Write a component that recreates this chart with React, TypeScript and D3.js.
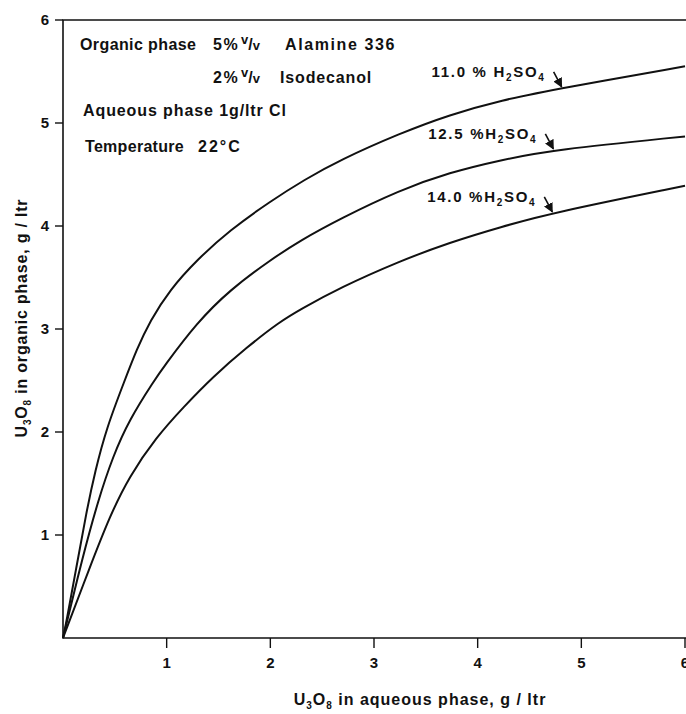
import React from 'react'
import * as d3 from 'd3'

// U3O8 aqueous (g/ltr) vs U3O8 organic (g/ltr)
const acid110 = [
  [0, 0], [0.03, 0.14], [0.13, 0.69], [0.225, 1.22], [0.31, 1.62], [0.42, 2.04],
  [0.595, 2.5], [0.71, 2.8], [0.84, 3.08], [1.03, 3.38], [1.29, 3.67], [1.61, 3.96],
  [2.0, 4.24], [2.33, 4.45], [2.67, 4.64], [3.25, 4.9], [3.73, 5.08], [4.22, 5.22],
  [4.81, 5.34], [6, 5.55],
]
const acid125 = [
  [0, 0], [0.19, 0.79], [0.34, 1.34], [0.48, 1.76], [0.64, 2.12], [0.88, 2.5],
  [0.97, 2.63], [1.29, 3.06], [1.61, 3.38], [2.0, 3.67], [2.29, 3.86], [2.67, 4.07],
  [3.25, 4.35], [3.73, 4.52], [4.22, 4.64], [4.73, 4.74], [6, 4.87],
]
const acid140 = [
  [0, 0], [0.26, 0.69], [0.45, 1.18], [0.64, 1.57], [0.9, 1.95], [1.16, 2.24],
  [1.45, 2.54], [1.77, 2.82], [2.09, 3.07], [2.29, 3.19], [2.67, 3.4], [3.25, 3.66],
  [3.73, 3.84], [4.22, 3.99], [4.73, 4.13], [6, 4.39],
]
const seriesLabels = ['11.0 % ', '12.5 %', '14.0 %']
const arrowAt = [4.81, 4.73, 4.72]
const xTicks = [1, 2, 3, 4, 5, 6]
const yTicks = [1, 2, 3, 4, 5, 6]

const FONT = '"Liberation Sans", Arial, sans-serif'

const interp = (pts, x) => {
  for (let i = 1; i < pts.length; i++) {
    if (x <= pts[i][0]) {
      const [x0, y0] = pts[i - 1]
      const [x1, y1] = pts[i]
      return y0 + ((x - x0) / (x1 - x0)) * (y1 - y0)
    }
  }
  return pts[pts.length - 1][1]
}

const App = () => {
  const svgRef = React.useRef(null)
  const width = 686
  const height = 714

  React.useEffect(() => {
    const svg = d3.select(svgRef.current)
    svg.selectAll('*').remove()

    const x = d3.scaleLinear().domain([0, 6]).range([63, 685])
    const y = d3.scaleLinear().domain([0, 6]).range([638, 20])

    const g = svg.append('g')
      .attr('font-family', FONT)
      .attr('font-weight', 'bold')
      .attr('fill', '#111')

    // frame: top, left, bottom
    g.append('path')
      .attr('d', `M${x(6) + 1},${y(6)} H${x(0)} V${y(0)} H${x(6) + 1}`)
      .attr('fill', 'none')
      .attr('stroke', '#111')
      .attr('stroke-width', 1.6)

    // y ticks
    yTicks.forEach((t) => {
      g.append('line')
        .attr('x1', x(0) - 8).attr('x2', x(0))
        .attr('y1', y(t)).attr('y2', y(t))
        .attr('stroke', '#111').attr('stroke-width', 1.4)
      g.append('text')
        .attr('x', x(0) - 14).attr('y', y(t))
        .attr('dy', '0.36em')
        .attr('text-anchor', 'end')
        .attr('font-size', 15)
        .text(t)
    })

    // x ticks
    xTicks.forEach((t) => {
      g.append('line')
        .attr('x1', x(t)).attr('x2', x(t))
        .attr('y1', y(0)).attr('y2', y(0) + 10)
        .attr('stroke', '#111').attr('stroke-width', 1.4)
      g.append('text')
        .attr('x', x(t)).attr('y', y(0) + 30)
        .attr('text-anchor', 'middle')
        .attr('font-size', 15)
        .text(t)
    })

    const line = d3.line()
      .x((d) => x(d[0]))
      .y((d) => y(d[1]))
      .curve(d3.curveBasis)

    const all = [acid110, acid125, acid140]
    g.selectAll('path.curve')
      .data(all)
      .join('path')
      .attr('class', 'curve')
      .attr('fill', 'none')
      .attr('stroke', '#111')
      .attr('stroke-width', 2)
      .attr('d', line)

    // arrow labels
    svg.append('defs').append('marker')
      .attr('id', 'ah')
      .attr('viewBox', '0 0 10 10')
      .attr('refX', 9).attr('refY', 5)
      .attr('markerWidth', 6).attr('markerHeight', 6)
      .attr('orient', 'auto')
      .append('path')
      .attr('d', 'M0,0 L10,5 L0,10 z')
      .attr('fill', '#111')

    all.forEach((pts, i) => {
      const tx = x(arrowAt[i])
      const ty = y(interp(pts, arrowAt[i])) - 1
      const sx = tx - 8
      const sy = ty - 15
      g.append('line')
        .attr('x1', sx).attr('y1', sy).attr('x2', tx).attr('y2', ty)
        .attr('stroke', '#111').attr('stroke-width', 1.6)
        .attr('marker-end', 'url(#ah)')
      const txt = g.append('text')
        .attr('x', sx - 8).attr('y', sy + 5)
        .attr('text-anchor', 'end')
        .attr('font-size', 15)
        .attr('letter-spacing', 1.7)
      txt.append('tspan').text(`${seriesLabels[i]}H`)
      txt.append('tspan').attr('font-size', 10).attr('dy', 4).text('2')
      txt.append('tspan').attr('dy', -4).text('SO')
      txt.append('tspan').attr('font-size', 10).attr('dy', 4).text('4')
    })

    // conditions block
    const vv = (t, at) => {
      t.append('tspan').attr('x', at).attr('font-size', 13).attr('dy', -6).attr('letter-spacing', 0).text('v')
      t.append('tspan').attr('dy', 6).attr('letter-spacing', 0).text('/')
      t.append('tspan').attr('font-size', 13).attr('letter-spacing', 0).text('v')
    }
    const l1 = g.append('text').attr('y', 50).attr('font-size', 16).attr('letter-spacing', 0.4)
    l1.append('tspan').attr('x', 80).text('Organic phase')
    l1.append('tspan').attr('x', 213).attr('letter-spacing', 1.5).text('5%')
    vv(l1, 241)
    l1.append('tspan').attr('x', 285).attr('letter-spacing', 1.6).text('Alamine 336')

    const l2 = g.append('text').attr('y', 83).attr('font-size', 16).attr('letter-spacing', 0.4)
    l2.append('tspan').attr('x', 213).attr('letter-spacing', 1.5).text('2%')
    vv(l2, 241)
    l2.append('tspan').attr('x', 280).attr('letter-spacing', 0.85).text('Isodecanol')

    g.append('text').attr('x', 83).attr('y', 116).attr('font-size', 16).attr('letter-spacing', 0.9)
      .text('Aqueous phase 1g/ltr Cl')

    const l4 = g.append('text').attr('y', 152).attr('font-size', 16).attr('letter-spacing', 0.3)
    l4.append('tspan').attr('x', 85).text('Temperature')
    l4.append('tspan').attr('x', 198).attr('letter-spacing', 2).text('22°C')

    // axis titles
    const xt = g.append('text')
      .attr('x', 420).attr('y', 705)
      .attr('text-anchor', 'middle')
      .attr('font-size', 16)
      .attr('letter-spacing', 1)
    xt.append('tspan').text('U')
    xt.append('tspan').attr('font-size', 10).attr('dy', 4).text('3')
    xt.append('tspan').attr('dy', -4).text('O')
    xt.append('tspan').attr('font-size', 10).attr('dy', 4).text('8')
    xt.append('tspan').attr('dy', -4).text('  in  aqueous phase,  g / ltr')

    const yt = g.append('text')
      .attr('transform', `translate(27,318) rotate(-90)`)
      .attr('text-anchor', 'middle')
      .attr('font-size', 16)
      .attr('letter-spacing', 0.8)
    yt.append('tspan').text('U')
    yt.append('tspan').attr('font-size', 10).attr('dy', 4).text('3')
    yt.append('tspan').attr('dy', -4).text('O')
    yt.append('tspan').attr('font-size', 10).attr('dy', 4).text('8')
    yt.append('tspan').attr('dy', -4).text(' in organic phase,  g / ltr')
  }, [])

  return (
    <svg
      ref={svgRef}
      width={width}
      height={height}
      style={{ position: 'absolute', left: 0, top: 0, background: '#fff' }}
    />
  )
}

export default App
